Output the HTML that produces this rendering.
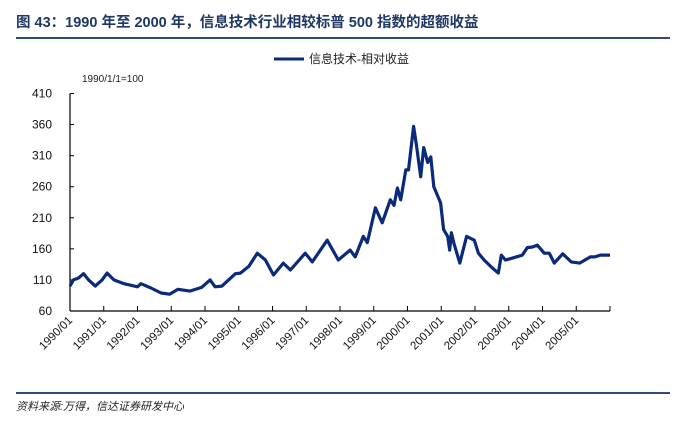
<!DOCTYPE html>
<html><head><meta charset="utf-8"><style>
body{margin:0;background:#fff;}
svg{display:block;font-family:"Liberation Sans","Noto Sans CJK SC",sans-serif;}
</style></head><body>
<svg id="chart" width="685" height="431" viewBox="0 0 685 431">
<text x="16" y="27" font-size="14.5" font-weight="bold" fill="#1f3864">图 43：1990 年至 2000 年，信息技术行业相较标普 500 指数的超额收益</text>
<line x1="16" y1="38" x2="670" y2="38" stroke="#2f4b78" stroke-width="2"/>
<g>
<line x1="274" y1="59" x2="304" y2="59" stroke="#0b2a7a" stroke-width="3"/>
<text x="309" y="63" font-size="12" fill="#222">信息技术-相对收益</text>
</g>
<text x="82" y="82" font-size="10" fill="#222">1990/1/1=100</text>
<g id="axes"></g>
<path id="line" fill="none" stroke="#0b2a7a" stroke-width="3.2" stroke-linejoin="round"/>
<line x1="16" y1="393" x2="670" y2="393" stroke="#2f4b78" stroke-width="2"/>
<text x="16" y="410" font-size="11" font-style="italic" fill="#222">资料来源:万得，信达证券研发中心</text>
</svg>
<script>
const years=[1990.0,1990.1,1990.25,1990.4,1990.55,1990.75,1990.95,1991.1,1991.3,1991.6,1992.0,1992.1,1992.4,1992.7,1992.95,1993.2,1993.55,1993.9,1994.15,1994.3,1994.5,1994.9,1995.05,1995.3,1995.55,1995.79,1996.03,1996.32,1996.53,1996.97,1997.18,1997.62,1997.95,1998.3,1998.45,1998.69,1998.81,1999.05,1999.25,1999.49,1999.6,1999.7,1999.8,1999.95,2000.03,2000.18,2000.27,2000.39,2000.48,2000.6,2000.69,2000.78,2000.98,2001.07,2001.19,2001.25,2001.3,2001.37,2001.55,2001.75,2001.98,2002.1,2002.27,2002.48,2002.69,2002.78,2002.9,2003.1,2003.4,2003.55,2003.7,2003.85,2004.05,2004.2,2004.35,2004.6,2004.85,2005.1,2005.42,2005.55,2005.72,2006.0];
const values=[100,110,113,120,110,100,110,121,110,104,99,104,97,89,87,95,92,98,110,99,100,120,121,132,153,142,118,137,126,153,139,174,142,158,147,180,170,226,202,239,230,258,239,287,287,357,325,276,323,299,308,260,234,191,180,158,186,170,137,180,174,153,142,131,121,150,142,145,150,162,163,166,153,153,137,152,139,137,147,147,150,150];
const yTicks=[60,110,160,210,260,310,360,410];
const xLabels=["1990/01","1991/01","1992/01","1993/01","1994/01","1995/01","1996/01","1997/01","1998/01","1999/01","2000/01","2001/01","2002/01","2003/01","2004/01","2005/01"];
const X0=70,X1=610,Y0=311,Y1=93.5;
const xs=y=>X0+(y-1990)/16*(X1-X0);
const ys=v=>Y0-(v-60)/350*(Y0-Y1);
const NS="http://www.w3.org/2000/svg";
const ax=document.getElementById('axes');
function mk(t,a){const e=document.createElementNS(NS,t);for(const k in a)e.setAttribute(k,a[k]);ax.appendChild(e);return e;}
let e=mk('line',{x1:X0,y1:Y1,x2:X0,y2:Y0,stroke:'#000','stroke-width':1.2});


e=mk('line',{x1:X0,y1:Y0,x2:X1,y2:Y0,stroke:'#000','stroke-width':1.2});


yTicks.forEach(v=>{
 const t=mk('line',{x1:X0,y1:ys(v),x2:X0+4,y2:ys(v),stroke:'#000'});
 
 
 const l=mk('text',{x:52,y:ys(v)+4,'font-size':12,'text-anchor':'end',fill:'#111'});
 l.textContent=v;
 
 
});
for(let i=0;i<=16;i++){
 const x=xs(1990+i);
 const t=mk('line',{x1:x,y1:Y0,x2:x,y2:Y0-5,stroke:'#000'});
 
 
}
xLabels.forEach((s,i)=>{
 const x=xs(1990+i)+3,y=Y0+10;
 const l=mk('text',{x:x,y:y,'font-size':11.5,'text-anchor':'end',fill:'#111',transform:`rotate(-45 ${x} ${y})`});
 l.textContent=s;
 
 
});
document.getElementById('line').setAttribute('d',years.map((y,i)=>(i?'L':'M')+xs(y).toFixed(1)+' '+ys(values[i]).toFixed(1)).join(' '));
</script>
</body></html>
